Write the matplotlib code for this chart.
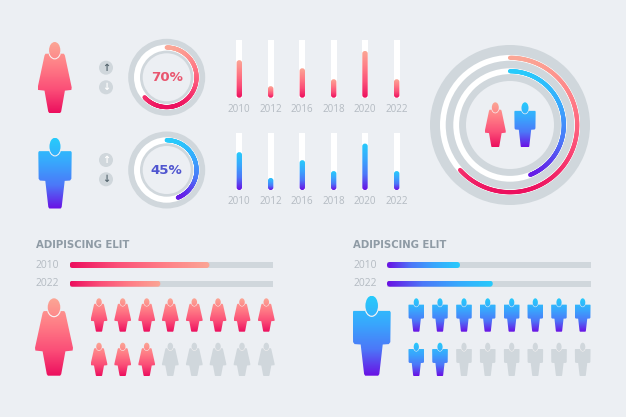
import numpy as np
import matplotlib
matplotlib.use("Agg")
import matplotlib.pyplot as plt
from matplotlib.collections import LineCollection
from matplotlib.colors import LinearSegmentedColormap
from matplotlib.patches import Circle, Ellipse, FancyBboxPatch, Polygon, Rectangle, Wedge

# values
years = ["2010", "2012", "2016", "2018", "2020", "2022"]
pink_bars = [65, 20, 51, 32, 81, 32]
blue_bars = [66, 21, 52, 33, 81, 33]
pink_pct_label = "70%"
blue_pct_label = "45%"
pink_sweep = [228]   # degrees actually drawn
blue_sweep = [158]
pink_hbar_years = ["2010", "2022"]
pink_hbars = [68.6, 44.5]
blue_hbar_years = ["2010", "2022"]
blue_hbars = [35.8, 51.9]
pink_people_on = 11
blue_people_on = 10
people_total = 16
heading = "ADIPISCING ELIT"

BG = "#ECEFF3"
GRAY = "#D0D7DC"
TXT = "#B4BBC2"
HEAD = "#8F9BA5"
DARK = "#56666F"

pink = LinearSegmentedColormap.from_list("p", ["#FBA695", "#FF7D86", "#FB4F78", "#EC0F5E"])
blue = LinearSegmentedColormap.from_list("b", ["#27CBFB", "#38A8FD", "#4C78F8", "#6A10E4"])

fem_body = [(-.27, .165), (.27, .165), (.30, .19), (.50, .64), (.49, .675), (.30, .685), (.19, .98), (.16, 1.0),
            (-.16, 1.0), (-.19, .98), (-.30, .685), (-.49, .675), (-.50, .64), (-.30, .19)]
fem_head = (.115, .115, .165)
man_body = [(-.48, .19), (.48, .19), (.5, .21), (.49, .58), (.45, .605), (.29, .61), (.20, .98), (.17, 1.0),
            (-.17, 1.0), (-.20, .98), (-.29, .61), (-.45, .605), (-.49, .58), (-.5, .21)]
man_head = (.125, .125, .165)

fig = plt.figure(figsize=(6.26, 4.17), dpi=100, facecolor=BG)
ax = fig.add_axes([0, 0, 1, 1])
ax.set_facecolor(BG)
ax.set_autoscale_on(False)
ax.set_xlim(0, 626)
ax.set_ylim(417, 0)
ax.axis("off")


def grad(patch, box, cmap, horizontal=False, z=3):
    ax.add_patch(patch)
    patch.set_facecolor("none")
    patch.set_edgecolor("none")
    g = np.linspace(0, 1, 128)
    g = g.reshape(1, -1) if horizontal else g.reshape(-1, 1)
    x0, x1, y0, y1 = box
    im = ax.imshow(g, cmap=cmap, extent=(x0, x1, y1, y0), origin="upper", aspect="auto", zorder=z, vmin=0, vmax=1)
    im.set_clip_path(patch)


def person(cx, top, bottom, w, kind, cmap=None):
    h = bottom - top
    shape, head = (fem_body, fem_head) if kind == "f" else (man_body, man_head)
    pts = [(cx + x * w, top + y * h) for x, y in shape]
    hy, hry, hrx = head
    box = (cx - w / 2, cx + w / 2, top, bottom)
    body = Polygon(pts, closed=True, joinstyle="round")
    hd = Ellipse((cx, top + hy * h), 2 * hrx * w, 2 * hry * h)
    if cmap is None:
        body.set(facecolor=GRAY, edgecolor="none", zorder=3)
        hd.set(facecolor=GRAY, edgecolor="none", zorder=5)
        ax.add_patch(body)
        ax.add_patch(hd)
    else:
        grad(body, box, cmap, z=3)
        grad(hd, box, cmap, z=5)
    collar = Ellipse((cx, top + hy * h), 2 * hrx * w + h * .03, 2 * hry * h + h * .03,
                     facecolor="#F8F4F4", edgecolor="none", zorder=4)
    ax.add_patch(collar)
    collar.set_clip_path(body)


def arc(cx, cy, r, sweep, lw, cmap):
    th = np.radians(np.linspace(0, sweep, 240))
    x = cx + r * np.sin(th)
    y = cy - r * np.cos(th)
    pts = np.column_stack([x, y])
    segs = np.stack([pts[:-1], pts[1:]], axis=1)
    t = ((y[:-1] + y[1:]) / 2 - (cy - r)) / (2 * r)
    lc = LineCollection(segs, colors=cmap(t), linewidths=lw * .72, capstyle="round", zorder=4)
    ax.add_collection(lc)


def ring(cx, cy, r_out, r_in, color, z=1):
    ax.add_patch(Wedge((cx, cy), r_out, 0, 360, width=r_out - r_in, facecolor=color, edgecolor="none", zorder=z))


def small_ring(cx, cy, sweep, label, color, cmap):
    ring(cx, cy, 38.5, 24, GRAY)
    ring(cx, cy, 32.7, 26.7, "white", 2)
    arc(cx, cy, 29.8, sweep, 4.2, cmap)
    ax.text(cx, cy + .3, label, ha="center", va="center", fontsize=9.6, fontweight="bold", color=color, zorder=5)


def updown(cx, y1, y2, dark_up):
    for y, s, dark in [(y1, "↑", dark_up), (y2, "↓", not dark_up)]:
        ax.add_patch(Circle((cx, y), 7, facecolor=GRAY, edgecolor="none", zorder=2))
        ax.text(cx, y, s, ha="center", va="center", fontsize=7, fontweight="bold",
                color=DARK if dark else "white", zorder=3)


def vbars(values, top, bottom, cmap):
    xs = [239.3, 270.7, 302.3, 333.7, 365, 396.7]
    for x, v, yr in zip(xs, values, years):
        ax.add_patch(Rectangle((x - 2.9, top), 5.8, bottom - top, facecolor="white", edgecolor="none", zorder=2))
        y0 = bottom - (bottom - top) * v / 100
        p = FancyBboxPatch((x - 1.7, y0 + 1), 3.4, bottom - y0 - 2, boxstyle="round,pad=1,rounding_size=2.6")
        grad(p, (x - 3, x + 3, y0, bottom), cmap, z=3)
        ax.text(x, bottom + 11.5, yr, ha="center", va="center", fontsize=7.1, color=TXT, family="Open Sans")


def hbars(x_text, x0, x1, labels, values, cmap):
    ax.text(x_text, 245.3, heading, ha="left", va="center", fontsize=7.3, fontweight="bold", color=HEAD)
    for y, lb, v in zip([265, 283.7], labels, values):
        ax.add_patch(Rectangle((x0, y - 3), x1 - x0, 6, facecolor=GRAY, edgecolor="none", zorder=1))
        xe = x0 + (x1 - x0) * v / 100
        p = FancyBboxPatch((x0 + 2.8, y - .2), xe - x0 - 5.6, .4, boxstyle="round,pad=2.8,rounding_size=2.8")
        grad(p, (x0, xe, y - 3, y + 3), cmap, horizontal=True, z=2)
        ax.text(x_text, y, lb, ha="left", va="center", fontsize=7.4, color=TXT, family="Open Sans")


def crowd(xs, w, kind, n_on, cmap):
    i = 0
    for top, bot in [(298.3, 331.7), (342.7, 376)]:
        for x in xs:
            person(x, top, bot, w, kind, cmap if i < n_on else None)
            i += 1


pink_r = pink.reversed()
blue_r = blue.reversed()

# top left column
person(54.7, 42, 113, 34, "f", pink)
person(55, 137.7, 208.5, 33.4, "m", blue)
updown(106, 67.7, 87.3, True)
updown(106, 160, 179.3, False)
small_ring(166.7, 77.3, pink_sweep[0], pink_pct_label, "#E9566F", pink)
small_ring(166.7, 170, blue_sweep[0], blue_pct_label, "#4F55D0", blue)

# bars
vbars(pink_bars, 40, 97.7, pink)
vbars(blue_bars, 132.7, 190, blue)

# big ring
ring(510, 125, 80, 44, GRAY)
ring(510, 125, 70, 64.3, "white", 2)
ring(510, 125, 56.7, 50.9, "white", 2)
arc(510, 125, 67.2, pink_sweep[0], 4.2, pink)
arc(510, 125, 53.8, blue_sweep[0], 4.2, blue)
person(495.3, 102.3, 147.3, 21, "f", pink)
person(525, 102.3, 147.3, 21.3, "m", blue)

# bottom panels
hbars(35.5, 69.7, 273.3, pink_hbar_years, pink_hbars, pink_r)
hbars(353.3, 387, 590.7, blue_hbar_years, blue_hbars, blue_r)
person(54, 298.3, 375.7, 38, "f", pink)
person(371.7, 295.7, 375.7, 38, "m", blue)
crowd([99, 122.7, 146.7, 170.3, 194.3, 218, 242, 266.3], 16.7, "f", pink_people_on, pink)
crowd([416.3, 440, 464, 487.7, 511.7, 535.3, 559, 582.7], 15.7, "m", blue_people_on, blue)

ax.set_xlim(0, 626)
ax.set_ylim(417, 0)
fig.savefig("out.png", dpi=100, facecolor=BG)
